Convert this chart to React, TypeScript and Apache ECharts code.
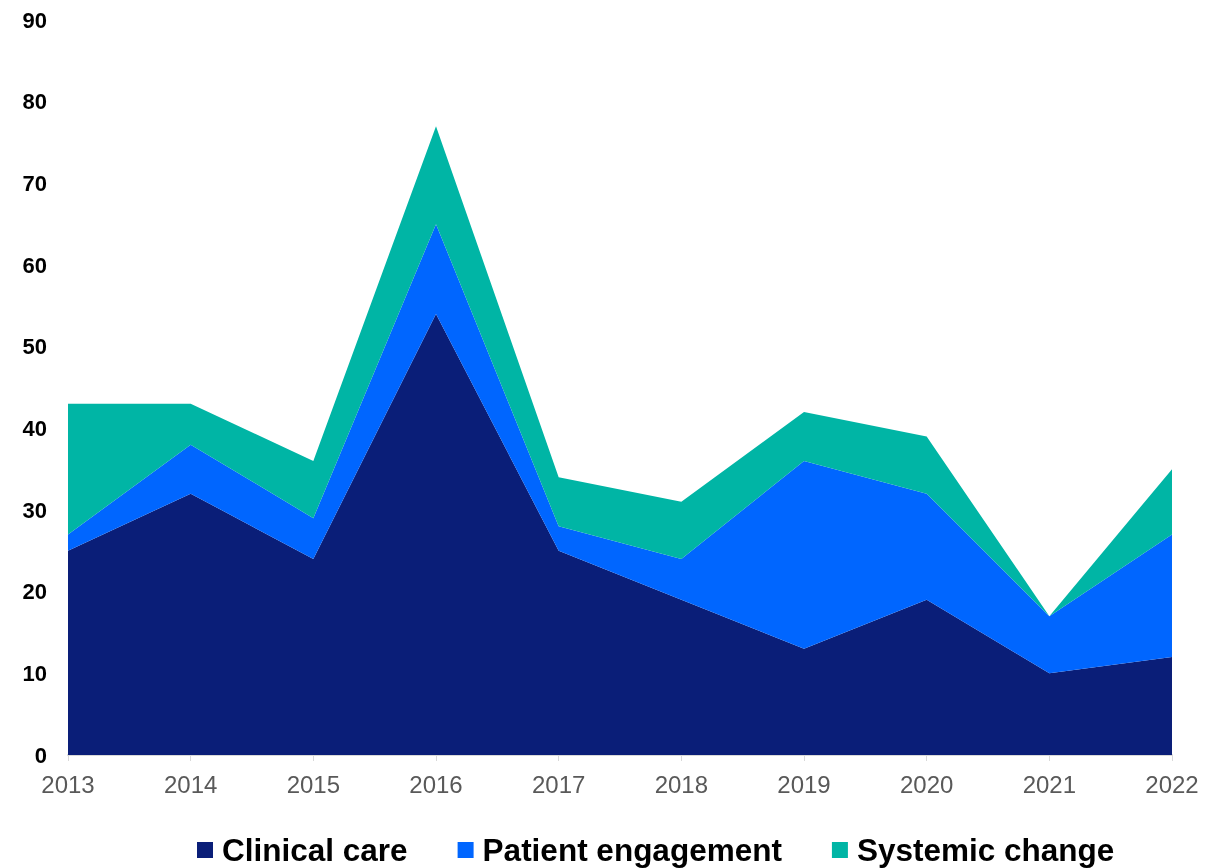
import React, { useEffect, useRef } from "react";
import * as echarts from "echarts";

const years = ["2013", "2014", "2015", "2016", "2017", "2018", "2019", "2020", "2021", "2022"];
const clinicalCare = [25, 32, 24, 54, 25, 19, 13, 19, 10, 12];
const patientEngagement = [2, 6, 5, 11, 3, 5, 23, 13, 7, 15];
const systemicChange = [16, 5, 7, 12, 6, 7, 6, 7, 0, 8];

const FONT = "'Liberation Sans', Arial, sans-serif";

export default function App() {
  const ref = useRef<HTMLDivElement>(null);

  useEffect(() => {
    if (!ref.current) return;
    const chart = echarts.init(ref.current, undefined, { renderer: "svg" });
    const area = (name: string, data: number[], color: string) => ({
      name,
      type: "line",
      stack: "total",
      data,
      symbol: "none",
      lineStyle: { width: 0, color },
      itemStyle: { color },
      areaStyle: { color, opacity: 1 },
    });
    chart.setOption({
      animation: false,
      grid: { left: 68, right: 51, top: 20, bottom: 113 },
      legend: {
        top: 829,
        left: 192,
        itemWidth: 16,
        itemHeight: 16,
        itemGap: 50,
        icon: "rect",
        textStyle: {
          fontFamily: FONT,
          fontSize: 31.5,
          fontWeight: "bold",
          color: "#000",
          padding: [0, 0, 0, 4],
        },
        data: ["Clinical care", "Patient engagement", "Systemic change"],
      },
      xAxis: {
        type: "category",
        data: years,
        boundaryGap: false,
        axisLine: { lineStyle: { color: "#d9d9d9", width: 2 } },
        axisTick: { show: true, length: 6, lineStyle: { color: "#d9d9d9", width: 1 } },
        axisLabel: { fontFamily: FONT, fontSize: 24, color: "#595959", margin: 17 },
      },
      yAxis: {
        type: "value",
        min: 0,
        max: 90,
        interval: 10,
        splitLine: { show: false },
        axisLine: { show: false },
        axisTick: { show: false },
        axisLabel: { fontFamily: FONT, fontSize: 22, fontWeight: "bold", color: "#000", margin: 21 },
      },
      series: [
        area("Clinical care", clinicalCare, "#0a1e78"),
        area("Patient engagement", patientEngagement, "#0066ff"),
        area("Systemic change", systemicChange, "#00b5a5"),
      ],
    });
    return () => chart.dispose();
  }, []);

  return (
    <div
      ref={ref}
      style={{ position: "fixed", left: 0, top: 0, width: 1223, height: 868 }}
    />
  );
}
